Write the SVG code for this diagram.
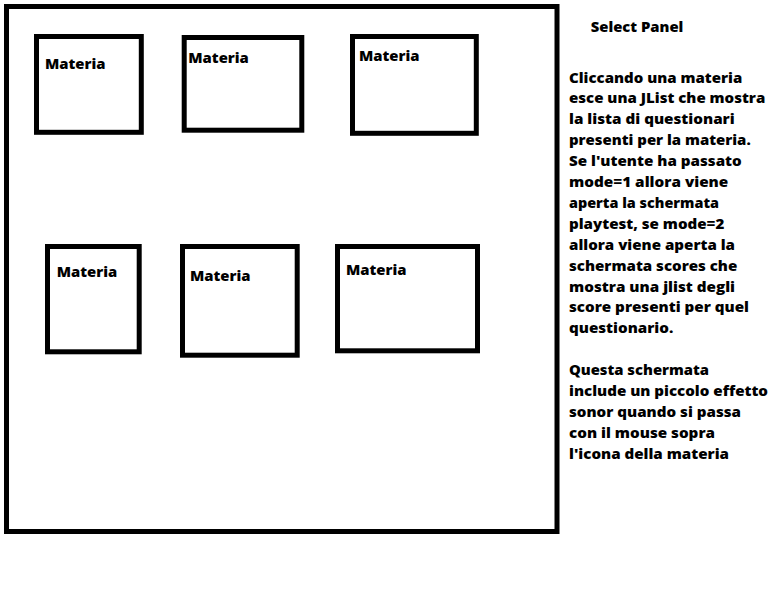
<svg xmlns="http://www.w3.org/2000/svg" width="769" height="597" viewBox="0 0 769 597">
<style>
.box{fill:#fff;stroke:#000;stroke-width:5}
.t{font-family:"Open Sans","Noto Sans","DejaVu Sans",sans-serif;font-weight:800;font-size:14.8px;fill:#000}
</style>
<rect width="769" height="597" fill="#fff"/>
<g id="panel">
<rect class="box" x="6.5" y="6.5" width="550.5" height="525"/>
</g>
<g id="materia1">
<rect class="box" x="36.5" y="36.5" width="104.8" height="95.8"/>
<text class="t" x="45" y="69.3" textLength="60.5" lengthAdjust="spacingAndGlyphs">Materia</text>
</g>
<g id="materia2">
<rect class="box" x="184.2" y="37.5" width="117.6" height="92.7"/>
<text class="t" x="188.3" y="63.3" textLength="60.5" lengthAdjust="spacingAndGlyphs">Materia</text>
</g>
<g id="materia3">
<rect class="box" x="352.5" y="36.5" width="123.8" height="96.8"/>
<text class="t" x="359" y="61" textLength="60.5" lengthAdjust="spacingAndGlyphs">Materia</text>
</g>
<g id="materia4">
<rect class="box" x="47.5" y="246.5" width="91.7" height="105.3"/>
<text class="t" x="56.7" y="276.7" textLength="60.5" lengthAdjust="spacingAndGlyphs">Materia</text>
</g>
<g id="materia5">
<rect class="box" x="182.5" y="246.5" width="114.7" height="108.7"/>
<text class="t" x="190" y="280.7" textLength="60.5" lengthAdjust="spacingAndGlyphs">Materia</text>
</g>
<g id="materia6">
<rect class="box" x="337.5" y="246.5" width="140" height="104.3"/>
<text class="t" x="346" y="275" textLength="60.5" lengthAdjust="spacingAndGlyphs">Materia</text>
</g>
<g id="connectors"></g>
<g id="description">
<text class="t" x="590.7" y="31.7" textLength="92.7" lengthAdjust="spacingAndGlyphs">Select Panel</text>
<text class="t" x="569" y="82.5" textLength="173.3" lengthAdjust="spacingAndGlyphs">Cliccando una materia</text>
<text class="t" x="569" y="103.4" textLength="196.3" lengthAdjust="spacingAndGlyphs">esce una JList che mostra</text>
<text class="t" x="569" y="124.3" textLength="165.7" lengthAdjust="spacingAndGlyphs">la lista di questionari</text>
<text class="t" x="569" y="145.2" textLength="181.7" lengthAdjust="spacingAndGlyphs">presenti per la materia.</text>
<text class="t" x="569" y="166.1" textLength="172.7" lengthAdjust="spacingAndGlyphs">Se l'utente ha passato</text>
<text class="t" x="569" y="187" textLength="159.3" lengthAdjust="spacingAndGlyphs">mode=1 allora viene</text>
<text class="t" x="569" y="207.9" textLength="150" lengthAdjust="spacingAndGlyphs">aperta la schermata</text>
<text class="t" x="569" y="228.8" textLength="155.3" lengthAdjust="spacingAndGlyphs">playtest, se mode=2</text>
<text class="t" x="569" y="249.7" textLength="166" lengthAdjust="spacingAndGlyphs">allora viene aperta la</text>
<text class="t" x="569" y="270.6" textLength="168.3" lengthAdjust="spacingAndGlyphs">schermata scores che</text>
<text class="t" x="569" y="291.5" textLength="166" lengthAdjust="spacingAndGlyphs">mostra una jlist degli</text>
<text class="t" x="569" y="312.4" textLength="180" lengthAdjust="spacingAndGlyphs">score presenti per quel</text>
<text class="t" x="569" y="333.3" textLength="104.3" lengthAdjust="spacingAndGlyphs">questionario.</text>
<text class="t" x="569" y="375.1" textLength="140" lengthAdjust="spacingAndGlyphs">Questa schermata</text>
<text class="t" x="569" y="396" textLength="199" lengthAdjust="spacingAndGlyphs">include un piccolo effetto</text>
<text class="t" x="569" y="416.9" textLength="172" lengthAdjust="spacingAndGlyphs">sonor quando si passa</text>
<text class="t" x="569" y="437.8" textLength="146" lengthAdjust="spacingAndGlyphs">con il mouse sopra</text>
<text class="t" x="569" y="458.7" textLength="160" lengthAdjust="spacingAndGlyphs">l'icona della materia</text>
</g>
</svg>
